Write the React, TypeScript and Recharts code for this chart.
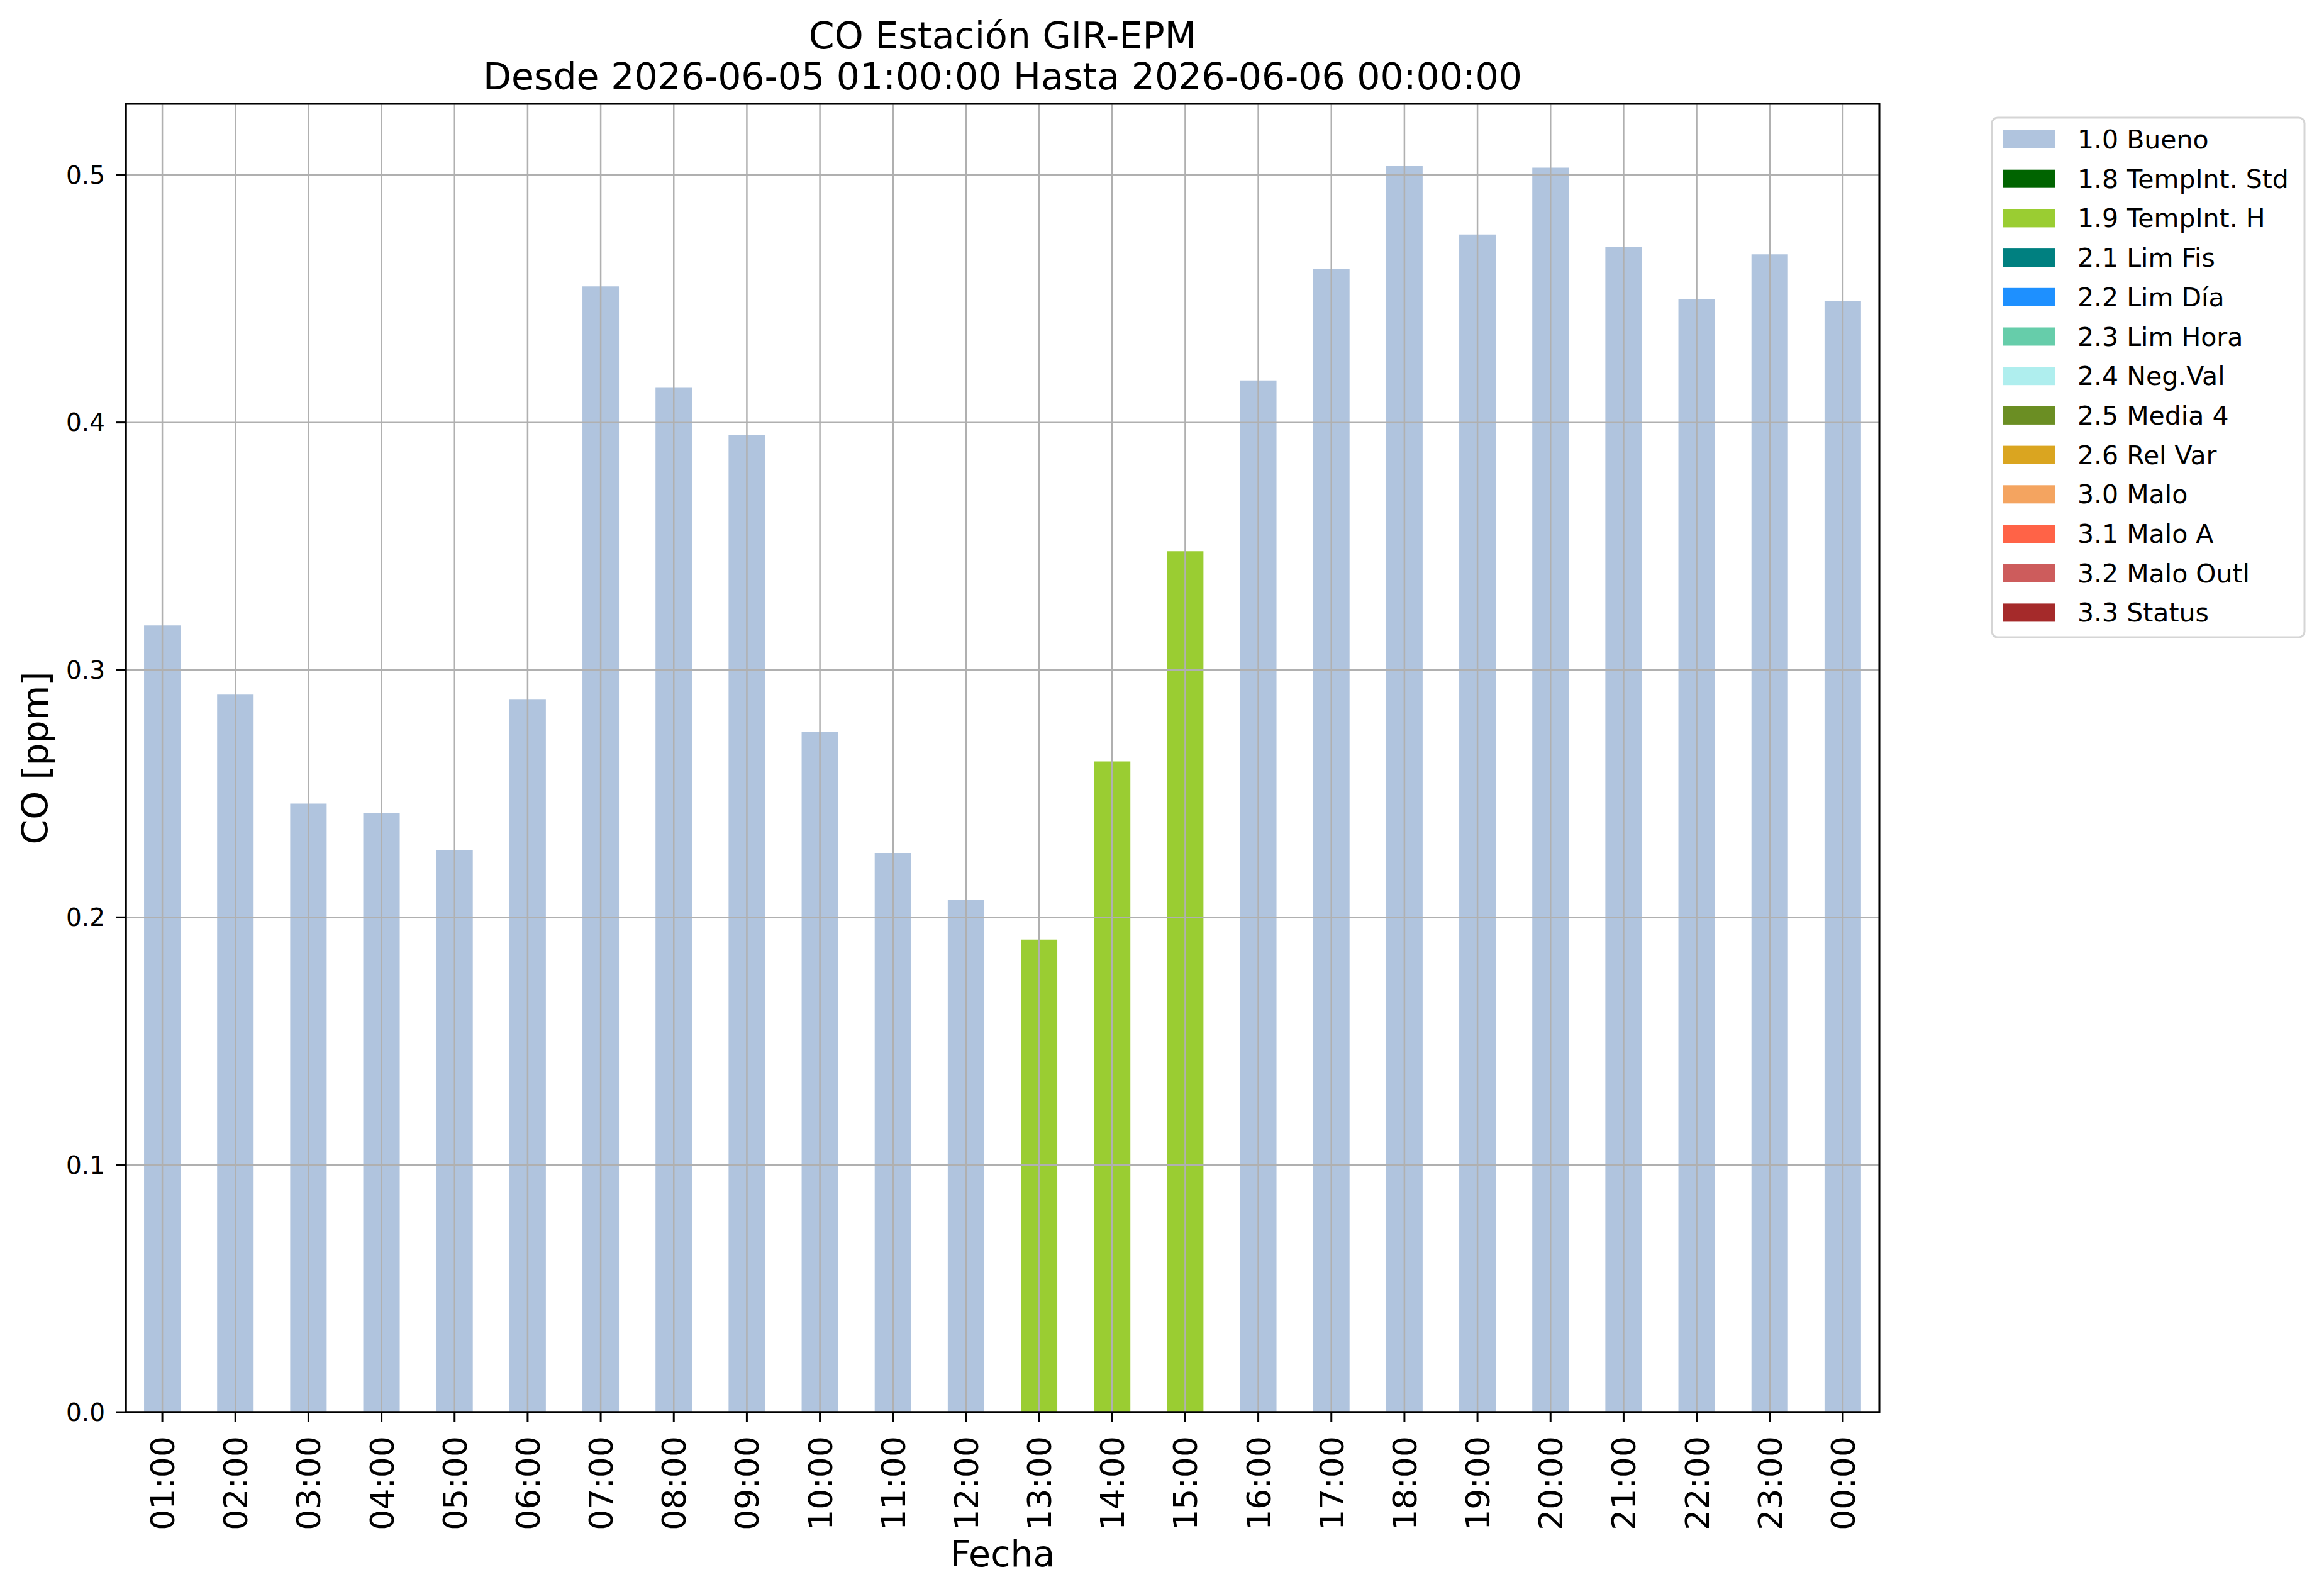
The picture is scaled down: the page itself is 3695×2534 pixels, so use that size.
import React from 'react';
import { BarChart, Bar, XAxis, YAxis, CartesianGrid } from 'recharts';

const HOURS = [
  '01:00', '02:00', '03:00', '04:00', '05:00', '06:00', '07:00', '08:00',
  '09:00', '10:00', '11:00', '12:00', '13:00', '14:00', '15:00', '16:00',
  '17:00', '18:00', '19:00', '20:00', '21:00', '22:00', '23:00', '00:00',
];

// CO [ppm] per hour
const CO_VALUES = [
  0.318, 0.290, 0.246, 0.242, 0.227, 0.288, 0.455, 0.414,
  0.395, 0.275, 0.226, 0.207, 0.191, 0.263, 0.348, 0.417,
  0.462, 0.5036, 0.476, 0.503, 0.471, 0.450, 0.468, 0.449,
];

// quality flag of each hour
const HOUR_FLAGS = [
  '1.0', '1.0', '1.0', '1.0', '1.0', '1.0', '1.0', '1.0',
  '1.0', '1.0', '1.0', '1.0', '1.9', '1.9', '1.9', '1.0',
  '1.0', '1.0', '1.0', '1.0', '1.0', '1.0', '1.0', '1.0',
];

const FLAG_CODES = ['1.0', '1.8', '1.9', '2.1', '2.2', '2.3', '2.4', '2.5', '2.6', '3.0', '3.1', '3.2', '3.3'];
const FLAG_NAMES = [
  '1.0 Bueno', '1.8 TempInt. Std', '1.9 TempInt. H', '2.1 Lim Fis', '2.2 Lim Día',
  '2.3 Lim Hora', '2.4 Neg.Val', '2.5 Media 4', '2.6 Rel Var', '3.0 Malo',
  '3.1 Malo A', '3.2 Malo Outl', '3.3 Status',
];
const FLAG_COLORS = [
  '#b0c4de', '#006400', '#9acd32', '#008080', '#1e90ff', '#66cdaa', '#afeeee',
  '#6b8e23', '#daa520', '#f4a460', '#ff6347', '#cd5c5c', '#a52a2a',
];

const Y_TICKS = [0, 0.1, 0.2, 0.3, 0.4, 0.5];
const Y_MAX = 0.5288;

const TITLE_1 = 'CO Estación GIR-EPM';
const TITLE_2 = 'Desde 2026-06-05 01:00:00 Hasta 2026-06-06 00:00:00';

const W = 3695;
const H = 2534;
const PLOT = { left: 200, right: 2988, top: 165, bottom: 2245 };
const FONT = '"DejaVu Sans", sans-serif';

const flagKey = (code: string) => 'f' + code.replace('.', '_');

const rows = HOURS.map((hour, i) => {
  const row: Record<string, number | string> = { hour };
  FLAG_CODES.forEach(code => {
    row[flagKey(code)] = HOUR_FLAGS[i] === code ? CO_VALUES[i] : 0;
  });
  return row;
});

const HourTick = (props: any) => {
  const { x, payload } = props;
  return (
    <text
      transform={`translate(${x + 19}, ${PLOT.bottom + 38}) rotate(-90)`}
      textAnchor="end"
      fontSize={52}
      fontFamily={FONT}
      fill="#000"
    >
      {payload.value}
    </text>
  );
};

const Overlay = () => {
  const cx = (PLOT.left + PLOT.right) / 2;
  const cy = (PLOT.top + PLOT.bottom) / 2;
  const lx = 3167;
  const ly = 187;
  const rowH = 62.7;
  return (
    <svg width={W} height={H} style={{ position: 'absolute', left: 0, top: 0, pointerEvents: 'none' }}>
      {/* axes frame */}
      <rect
        x={PLOT.left}
        y={PLOT.top}
        width={PLOT.right - PLOT.left}
        height={PLOT.bottom - PLOT.top}
        fill="none"
        stroke="#000"
        strokeWidth={3}
      />
      <g fontFamily={FONT} fill="#000">
        <text x={cx} y={77} fontSize={58.5} textAnchor="middle">{TITLE_1}</text>
        <text x={cx} y={142} fontSize={58.5} textAnchor="middle">{TITLE_2}</text>
        <text x={cx} y={2490} fontSize={57} textAnchor="middle">Fecha</text>
        <text transform={`translate(76, ${cy}) rotate(-90)`} fontSize={57} textAnchor="middle">CO [ppm]</text>
      </g>
      {/* legend */}
      <rect x={lx} y={ly} width={3664 - lx} height={1013 - ly} rx={9} fill="#fff" fillOpacity={0.8} stroke="#d5d5d5" strokeWidth={3} />
      {FLAG_NAMES.map((name, i) => (
        <g key={name}>
          <rect x={3184} y={207 + i * rowH} width={84} height={29} fill={FLAG_COLORS[i]} />
          <text x={3303} y={236 + i * rowH} fontSize={41} fontFamily={FONT} fill="#000">{name}</text>
        </g>
      ))}
    </svg>
  );
};

const App: React.FC = () => {
  return (
    <div style={{ position: 'absolute', left: 0, top: 0, width: W, height: H, background: '#fff' }}>
      <BarChart
        width={W}
        height={H}
        data={rows}
        margin={{ top: PLOT.top, right: W - PLOT.right, bottom: H - PLOT.bottom - 200, left: 0 }}
        barCategoryGap="25%"
      >
        {FLAG_CODES.map((code, i) => (
          <Bar
            key={code}
            dataKey={flagKey(code)}
            name={FLAG_NAMES[i]}
            stackId="co"
            fill={FLAG_COLORS[i]}
            isAnimationActive={false}
          />
        ))}
        <CartesianGrid stroke="#b0b0b0" strokeWidth={2.5} zIndex={350} />
        <XAxis
          dataKey="hour"
          type="category"
          interval={0}
          height={200}
          tick={<HourTick />}
          tickSize={15}
          axisLine={{ stroke: '#000', strokeWidth: 3 }}
          tickLine={{ stroke: '#000', strokeWidth: 3 }}
        />
        <YAxis
          type="number"
          domain={[0, Y_MAX]}
          ticks={Y_TICKS}
          allowDataOverflow
          width={200}
          tickFormatter={(v: number) => v.toFixed(1)}
          tick={{ fontSize: 39, fill: '#000', fontFamily: FONT }}
          tickSize={15}
          tickMargin={18}
          axisLine={{ stroke: '#000', strokeWidth: 3 }}
          tickLine={{ stroke: '#000', strokeWidth: 3 }}
        />
      </BarChart>
      <Overlay />
    </div>
  );
};

export default App;
